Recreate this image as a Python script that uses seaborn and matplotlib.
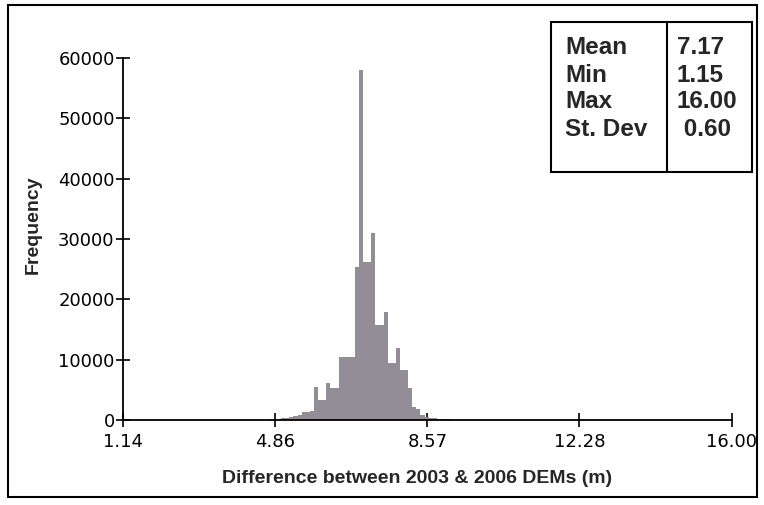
import numpy as np
import pandas as pd
import matplotlib
matplotlib.use("Agg")
import matplotlib.pyplot as plt
from matplotlib.patches import Rectangle
import seaborn as sns

# histogram: left edge of each 0.1 m bin and its count
bin_left = [4.5, 4.6, 4.7, 4.8, 4.9, 5.0, 5.1, 5.2, 5.3, 5.4, 5.5, 5.6, 5.7,
            5.8, 5.9, 6.0, 6.1, 6.2, 6.3, 6.4, 6.5, 6.6, 6.7, 6.8, 6.9, 7.0,
            7.1, 7.2, 7.3, 7.4, 7.5, 7.6, 7.7, 7.8, 7.9, 8.0, 8.1, 8.2, 8.3,
            8.4, 8.5, 8.6, 8.7, 8.8, 8.9, 9.0, 9.1, 9.2, 9.3, 9.4]
counts = [100, 100, 150, 200, 250, 300, 350, 500, 700, 900, 1300, 1400, 1600,
          5500, 3300, 3300, 6100, 5300, 5300, 10500, 10500, 10500, 10500, 25400,
          58000, 26200, 26200, 31000, 15800, 15800, 18000, 9500, 9500, 12000,
          8300, 8300, 5300, 2100, 1800, 800, 500, 400, 300, 250, 200, 150, 120,
          100, 80, 60]
bin_width = 0.1

x_ticks = [1.14, 4.86, 8.57, 12.28, 16.00]
y_ticks = [0, 10000, 20000, 30000, 40000, 50000, 60000]

stat_names = ["Mean", "Min", "Max", "St. Dev"]
stat_values = ["7.17", "1.15", "16.00", " 0.60"]

sns.set_style("white")
plt.rcParams["font.family"] = ["Liberation Sans", "DejaVu Sans"]

df = pd.DataFrame({"diff": np.array(bin_left) + bin_width / 2, "n": counts})
edges = [float(v) for v in np.append(bin_left, bin_left[-1] + bin_width)]

fig = plt.figure(figsize=(7.64, 5.05), dpi=100)
ax = fig.add_axes([0.161, 0.168, 0.797, 0.717])

sns.histplot(data=df, x="diff", weights="n", bins=edges, ax=ax,
             color="#938d98", alpha=1, linewidth=0)

ax.set_xlim(1.14, 16.00)
ax.set_ylim(0, 60000)
ax.set_xticks(x_ticks)
ax.set_xticklabels(["%.2f" % v for v in x_ticks])
ax.set_yticks(y_ticks)
ax.set_yticklabels([str(v) for v in y_ticks])
ax.tick_params(axis="both", bottom=True, left=True, direction="inout",
               length=10, width=1.2, labelsize=13, color="black",
               labelcolor="black")
ax.tick_params(axis="x", pad=4)
ax.tick_params(axis="y", pad=1)
for lab in ax.get_xticklabels() + ax.get_yticklabels():
    lab.set_family(["DejaVu Sans"])
for s in ["top", "right"]:
    ax.spines[s].set_visible(False)
for s in ["left", "bottom"]:
    ax.spines[s].set_color("black")
    ax.spines[s].set_linewidth(1.3)

ax.set_xlabel("Difference between 2003 & 2006 DEMs (m)", fontsize=14,
              fontweight="bold", va="top")
ax.xaxis.set_label_coords(0.483, -0.138)
ax.set_ylabel("Frequency", fontsize=14, fontweight="bold", va="center")
ax.yaxis.set_label_coords(-0.148, 0.54)

# stats box
fig.patches.append(Rectangle((551 / 764, 1 - 172 / 505), 201 / 764, 150 / 505,
                             transform=fig.transFigure, fill=False,
                             edgecolor="black", linewidth=1.5))
fig.lines.append(plt.Line2D([667 / 764, 667 / 764], [1 - 172 / 505, 1 - 22 / 505],
                            transform=fig.transFigure, color="black", linewidth=1.5))
row_y = [48, 75, 102, 130]
for name, val, yy in zip(stat_names, stat_values, row_y):
    fig.text(565 / 764, 1 - yy / 505, name, fontsize=17.5, fontweight="bold",
             va="center", ha="left")
    fig.text(677 / 764, 1 - yy / 505, val, fontsize=17.5, fontweight="bold",
             va="center", ha="left")

# outer frame
fig.patches.append(Rectangle((8 / 764, 8 / 505), 749 / 764, 492 / 505,
                             transform=fig.transFigure, fill=False,
                             edgecolor="black", linewidth=1.5))

fig.savefig("out.png", dpi=100)
